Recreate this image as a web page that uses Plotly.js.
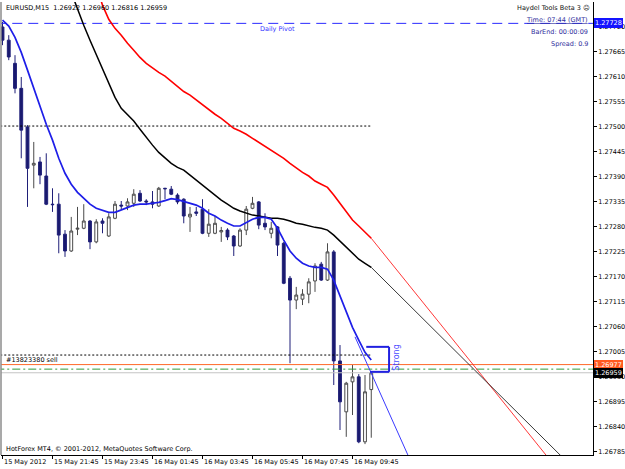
<!DOCTYPE html>
<html><head><meta charset="utf-8">
<script src="https://cdn.plot.ly/plotly-3.0.1.min.js"></script>
<style>html,body{margin:0;padding:0;background:#fff}#chart{width:625px;height:469px}</style>
</head><body><div id="chart"></div>
<script>
// ---- data (EURUSD M15) ----
const openP  = [1.27720,1.27691,1.27640,1.27585,1.27500,1.27416,1.27423,1.27392,1.27330,1.27330,
                1.27264,1.27227,1.27275,1.27277,1.27293,1.27247,1.27293,1.27260,1.27299,1.27328,
                1.27326,1.27332,1.27354,1.27337,1.27335,1.27326,1.27365,1.27363,1.27350,1.27341,
                1.27302,1.27313,1.27319,1.27266,1.27266,1.27269,1.27273,1.27260,1.27238,1.27273,
                1.27321,1.27335,1.27288,1.27266,1.27280,1.27244,1.27167,1.27119,1.27121,1.27132,
                1.27161,1.27198,1.27163,1.27225,1.26985,1.26873,1.26939,1.26950,1.26807,1.26922];
const highP  = [1.27731,1.27702,1.27658,1.27610,1.27504,1.27467,1.27434,1.27442,1.27365,1.27354,
                1.27273,1.27302,1.27324,1.27330,1.27295,1.27297,1.27299,1.27310,1.27337,1.27337,
                1.27343,1.27363,1.27361,1.27341,1.27359,1.27368,1.27366,1.27370,1.27354,1.27343,
                1.27324,1.27324,1.27341,1.27319,1.27304,1.27280,1.27277,1.27262,1.27277,1.27326,
                1.27346,1.27337,1.27310,1.27291,1.27282,1.27247,1.27172,1.27148,1.27143,1.27167,
                1.27200,1.27203,1.27244,1.27229,1.27020,1.26939,1.26976,1.26956,1.26954,1.26960];
const lowP   = [1.27680,1.27647,1.27574,1.27431,1.27324,1.27365,1.27374,1.27328,1.27313,1.27222,
                1.27214,1.27225,1.27262,1.27275,1.27231,1.27244,1.27266,1.27258,1.27297,1.27319,
                1.27317,1.27324,1.27335,1.27328,1.27321,1.27324,1.27341,1.27350,1.27330,1.27288,
                1.27269,1.27304,1.27264,1.27258,1.27264,1.27247,1.27251,1.27216,1.27236,1.27262,
                1.27319,1.27275,1.27273,1.27255,1.27216,1.27154,1.26980,1.27099,1.27108,1.27112,
                1.27137,1.27161,1.27161,1.26932,1.26833,1.26818,1.26866,1.26804,1.26802,1.26816];
const closeP = [1.27691,1.27654,1.27585,1.27493,1.27409,1.27420,1.27394,1.27330,1.27329,1.27262,
                1.27227,1.27271,1.27277,1.27293,1.27247,1.27291,1.27288,1.27302,1.27330,1.27326,
                1.27335,1.27352,1.27337,1.27335,1.27330,1.27365,1.27364,1.27352,1.27335,1.27304,
                1.27308,1.27310,1.27266,1.27286,1.27288,1.27272,1.27258,1.27238,1.27273,1.27319,
                1.27332,1.27284,1.27280,1.27277,1.27240,1.27156,1.27119,1.27130,1.27132,1.27159,
                1.27194,1.27163,1.27225,1.26985,1.26895,1.26936,1.26950,1.26807,1.26917,1.26959];
const maBlue = [1.27735,1.27722,1.27697,1.27664,1.27625,1.27585,1.27546,1.27506,1.27471,1.27431,
                1.27398,1.27374,1.27356,1.27343,1.27330,1.27321,1.27317,1.27312,1.27312,1.27317,
                1.27323,1.27328,1.27330,1.27330,1.27332,1.27334,1.27338,1.27342,1.27340,1.27336,
                1.27332,1.27328,1.27321,1.27310,1.27304,1.27295,1.27288,1.27282,1.27282,1.27290,
                1.27297,1.27301,1.27301,1.27297,1.27277,1.27251,1.27227,1.27211,1.27200,1.27194,
                1.27191,1.27191,1.27187,1.27163,1.27128,1.27092,1.27059,1.27031,1.27004,1.26987];
const maBlack = [null,null,null,null,null,null,null,null,null,null,
                null,1.27796,1.27759,1.27724,1.27691,1.27660,1.27629,1.27596,1.27565,1.27541,
                1.27526,1.27513,1.27495,1.27477,1.27460,1.27444,1.27431,1.27420,1.27411,1.27405,
                1.27394,1.27383,1.27370,1.27359,1.27348,1.27339,1.27330,1.27321,1.27315,1.27310,
                1.27306,1.27304,1.27301,1.27299,1.27299,1.27297,1.27293,1.27288,1.27286,1.27282,
                1.27279,1.27277,1.27273,1.27262,1.27249,1.27235,1.27222,1.27209,1.27200,1.27191];
const maRed = [null,null,null,null,null,null,null,null,null,null,
                null,null,null,null,null,1.27812,1.27768,1.27737,1.27717,1.27702,
                1.27684,1.27669,1.27653,1.27640,1.27629,1.27620,1.27612,1.27601,1.27590,1.27578,
                1.27570,1.27559,1.27548,1.27537,1.27528,1.27519,1.27508,1.27497,1.27491,1.27484,
                1.27475,1.27466,1.27458,1.27449,1.27440,1.27431,1.27420,1.27409,1.27400,1.27392,
                1.27381,1.27374,1.27367,1.27350,1.27332,1.27315,1.27295,1.27282,1.27268,1.27255];
const projBlueX = [56.4, 66], projBlueY = [1.27038, 1.26743];
const projBlackX = [59, 92], projBlackY = [1.27191, 1.26740];
const projRedX = [59, 90], projRedY = [1.27255, 1.26726];
const dailyPivot = 1.27728;
const levelUpper = 1.27502, levelLower = 1.26998;
const orderPrice = 1.26977, stopLevel = 1.26967, bidPrice = 1.26959;
const priceTicks = [1.26785,1.26840,1.26895,1.26950,1.27005,1.27060,1.27115,1.27170,1.27225,
                    1.27280,1.27335,1.27390,1.27445,1.27500,1.27555,1.27610,1.27665,1.27720];
const timeTickBars = [0,8,16,24,32,40,48,56];
const timeTickLabels = ['15 May 2012','15 May 21:45','15 May 23:45','16 May 01:45',
                        '16 May 03:45','16 May 05:45','16 May 07:45','16 May 09:45'];
const headerText = 'EURUSD,M15  1.26922 1.26960 1.26816 1.26959';

const bars = openP.map((_, i) => i);
const FONT = 'DejaVu Sans, Tahoma, sans-serif';
const XR = [-0.24, 94.48];

function hline(y, x0, x1, color, width, dash) {
  return {type:'scatter', mode:'lines', x:[x0, x1], y:[y, y], hoverinfo:'skip',
          line:{color:color, width:width, dash:dash}, showlegend:false};
}

const traces = [
  hline(dailyPivot, -1, 96, '#2a2aff', 1, '10px,6px'),
  hline(levelUpper, -1, 59, '#000000', 1, '2px,2px'),
  hline(levelLower, -1, 59, '#000000', 1, '2px,2px'),
  hline(bidPrice, -1, 96, '#c4c4c4', 1, 'solid'),
  hline(stopLevel, -1, 96, '#2f9a3a', 1, '8px,3px,2px,3px'),
  hline(orderPrice, -1, 96, '#ff6a2a', 1, 'solid'),
  {type:'candlestick', x:bars, open:openP, high:highP, low:lowP, close:closeP,
   increasing:{line:{color:'#4a4a4a', width:1}, fillcolor:'#ffffff'},
   decreasing:{line:{color:'#1f1f78', width:1}, fillcolor:'#1a1a6e'},
   whiskerwidth:0, hoverinfo:'skip', showlegend:false},
  {type:'scatter', mode:'lines', x:projRedX, y:projRedY, line:{color:'#ff2020', width:0.9}, hoverinfo:'skip', showlegend:false},
  {type:'scatter', mode:'lines', x:projBlackX, y:projBlackY, line:{color:'#222222', width:0.9}, hoverinfo:'skip', showlegend:false},
  {type:'scatter', mode:'lines', x:projBlueX, y:projBlueY, line:{color:'#3a3aff', width:1}, hoverinfo:'skip', showlegend:false},
  {type:'scatter', mode:'lines', x:bars, y:maRed, line:{color:'#ff0000', width:1.6}, hoverinfo:'skip', showlegend:false},
  {type:'scatter', mode:'lines', x:bars, y:maBlack, line:{color:'#000000', width:1.5}, hoverinfo:'skip', showlegend:false},
  {type:'scatter', mode:'lines', x:bars, y:maBlue, line:{color:'#1e1ee8', width:1.7}, hoverinfo:'skip', showlegend:false}
];

function rightLabel(val, bg) {
  return {xref:'paper', yref:'y', x:1, y:val, xanchor:'left', yanchor:'middle', xshift:1,
          text:val.toFixed(5), showarrow:false, bgcolor:bg, borderpad:1, borderwidth:0,
          font:{family:FONT, size:6.5, color:'#ffffff'}};
}

const annotations = [
  {xref:'paper', yref:'paper', x:0, y:1, xanchor:'left', yanchor:'top', xshift:3, yshift:0,
   text:headerText, showarrow:false, font:{family:FONT, size:6.5, color:'#000'}},
  {xref:'paper', yref:'paper', x:1, y:1, xanchor:'right', yanchor:'top', xshift:-1, yshift:0,
   text:'Haydel Tools Beta 3 \u2639', showarrow:false, font:{family:FONT, size:6.5, color:'#111'}},
  {xref:'paper', yref:'paper', x:1, y:1, xanchor:'right', yanchor:'middle', xshift:-3, yshift:-18,
   text:'<u>Time: 07:44 (GMT)</u>', showarrow:false, font:{family:FONT, size:6.5, color:'#2e2e9c'}},
  {xref:'paper', yref:'paper', x:1, y:1, xanchor:'right', yanchor:'middle', xshift:-3, yshift:-30,
   text:'BarEnd: 00:00:09', showarrow:false, font:{family:FONT, size:6.5, color:'#2e2e9c'}},
  {xref:'paper', yref:'paper', x:1, y:1, xanchor:'right', yanchor:'middle', xshift:-3, yshift:-42,
   text:'Spread: 0.9', showarrow:false, font:{family:FONT, size:6.5, color:'#2e2e9c'}},
  {xref:'x', yref:'y', x:44, y:dailyPivot, xanchor:'center', yanchor:'top', yshift:0,
   text:'Daily Pivot', showarrow:false, font:{family:FONT, size:6.5, color:'#3535ff'}},
  {xref:'paper', yref:'y', x:0, y:orderPrice, xanchor:'left', yanchor:'bottom', xshift:3, yshift:-1,
   text:'#13823380 sell', showarrow:false, font:{family:FONT, size:6.5, color:'#000'}},
  {xref:'paper', yref:'paper', x:0, y:0, xanchor:'left', yanchor:'bottom', xshift:3, yshift:0,
   text:'HotForex MT4, \u00a9 2001-2012, MetaQuotes Software Corp.', showarrow:false,
   font:{family:FONT, size:6.5, color:'#000'}},
  {xref:'x', yref:'y', x:63.1, y:1.26992, xanchor:'center', yanchor:'middle', textangle:-90,
   text:'Strong', showarrow:false, font:{family:FONT, size:8, color:'#4a4aff'}},
  rightLabel(dailyPivot, '#1414ff'),
  rightLabel(orderPrice, '#ff5a1f'),
  rightLabel(bidPrice, '#000000')
];
timeTickBars.forEach((b, k) => {
  annotations.push({xref:'x', yref:'paper', x:b, y:0, xanchor:'left', yanchor:'top', xshift:-1, yshift:-1,
    text:timeTickLabels[k], showarrow:false, font:{family:FONT, size:6.5, color:'#000'}});
});

const shapes = [
  {type:'line', xref:'paper', yref:'paper', x0:0, x1:0, y0:0, y1:1, line:{color:'#8c8c8c', width:1.5}},
  {type:'line', xref:'x', yref:'y', x0:58.2, x1:61.85, y0:1.27016, y1:1.27016, line:{color:'#2020e0', width:2}},
  {type:'line', xref:'x', yref:'y', x0:61.85, x1:61.85, y0:1.27016, y1:1.26961, line:{color:'#2020e0', width:2}},
  {type:'line', xref:'x', yref:'y', x0:58.8, x1:61.85, y0:1.26961, y1:1.26961, line:{color:'#2020e0', width:2}}
];

const layout = {
  width:625, height:469,
  margin:{l:1, r:32, t:2, b:14, pad:0},
  paper_bgcolor:'#ffffff', plot_bgcolor:'#ffffff',
  showlegend:false, boxgap:0.55, boxgroupgap:0,
  font:{family:FONT, size:6.5, color:'#000'},
  xaxis:{range:XR, showgrid:false, zeroline:false, rangeslider:{visible:false},
         tickmode:'array', tickvals:timeTickBars, showticklabels:false,
         ticks:'outside', ticklen:3, tickcolor:'#000', tickwidth:1,
         showline:true, linecolor:'#000', linewidth:1, fixedrange:true},
  yaxis:{range:[1.26778, 1.27775], side:'right', showgrid:false, zeroline:false,
         tickmode:'array', tickvals:priceTicks, ticktext:priceTicks.map(v => v.toFixed(5)),
         ticks:'outside', ticklen:3, tickcolor:'#000', tickwidth:1,
         showline:true, linecolor:'#000', linewidth:1,
         tickfont:{family:FONT, size:6.5, color:'#000'}, fixedrange:true},
  annotations:annotations, shapes:shapes
};

Plotly.newPlot('chart', traces, layout, {staticPlot:true, displayModeBar:false});
</script>
</body></html>
